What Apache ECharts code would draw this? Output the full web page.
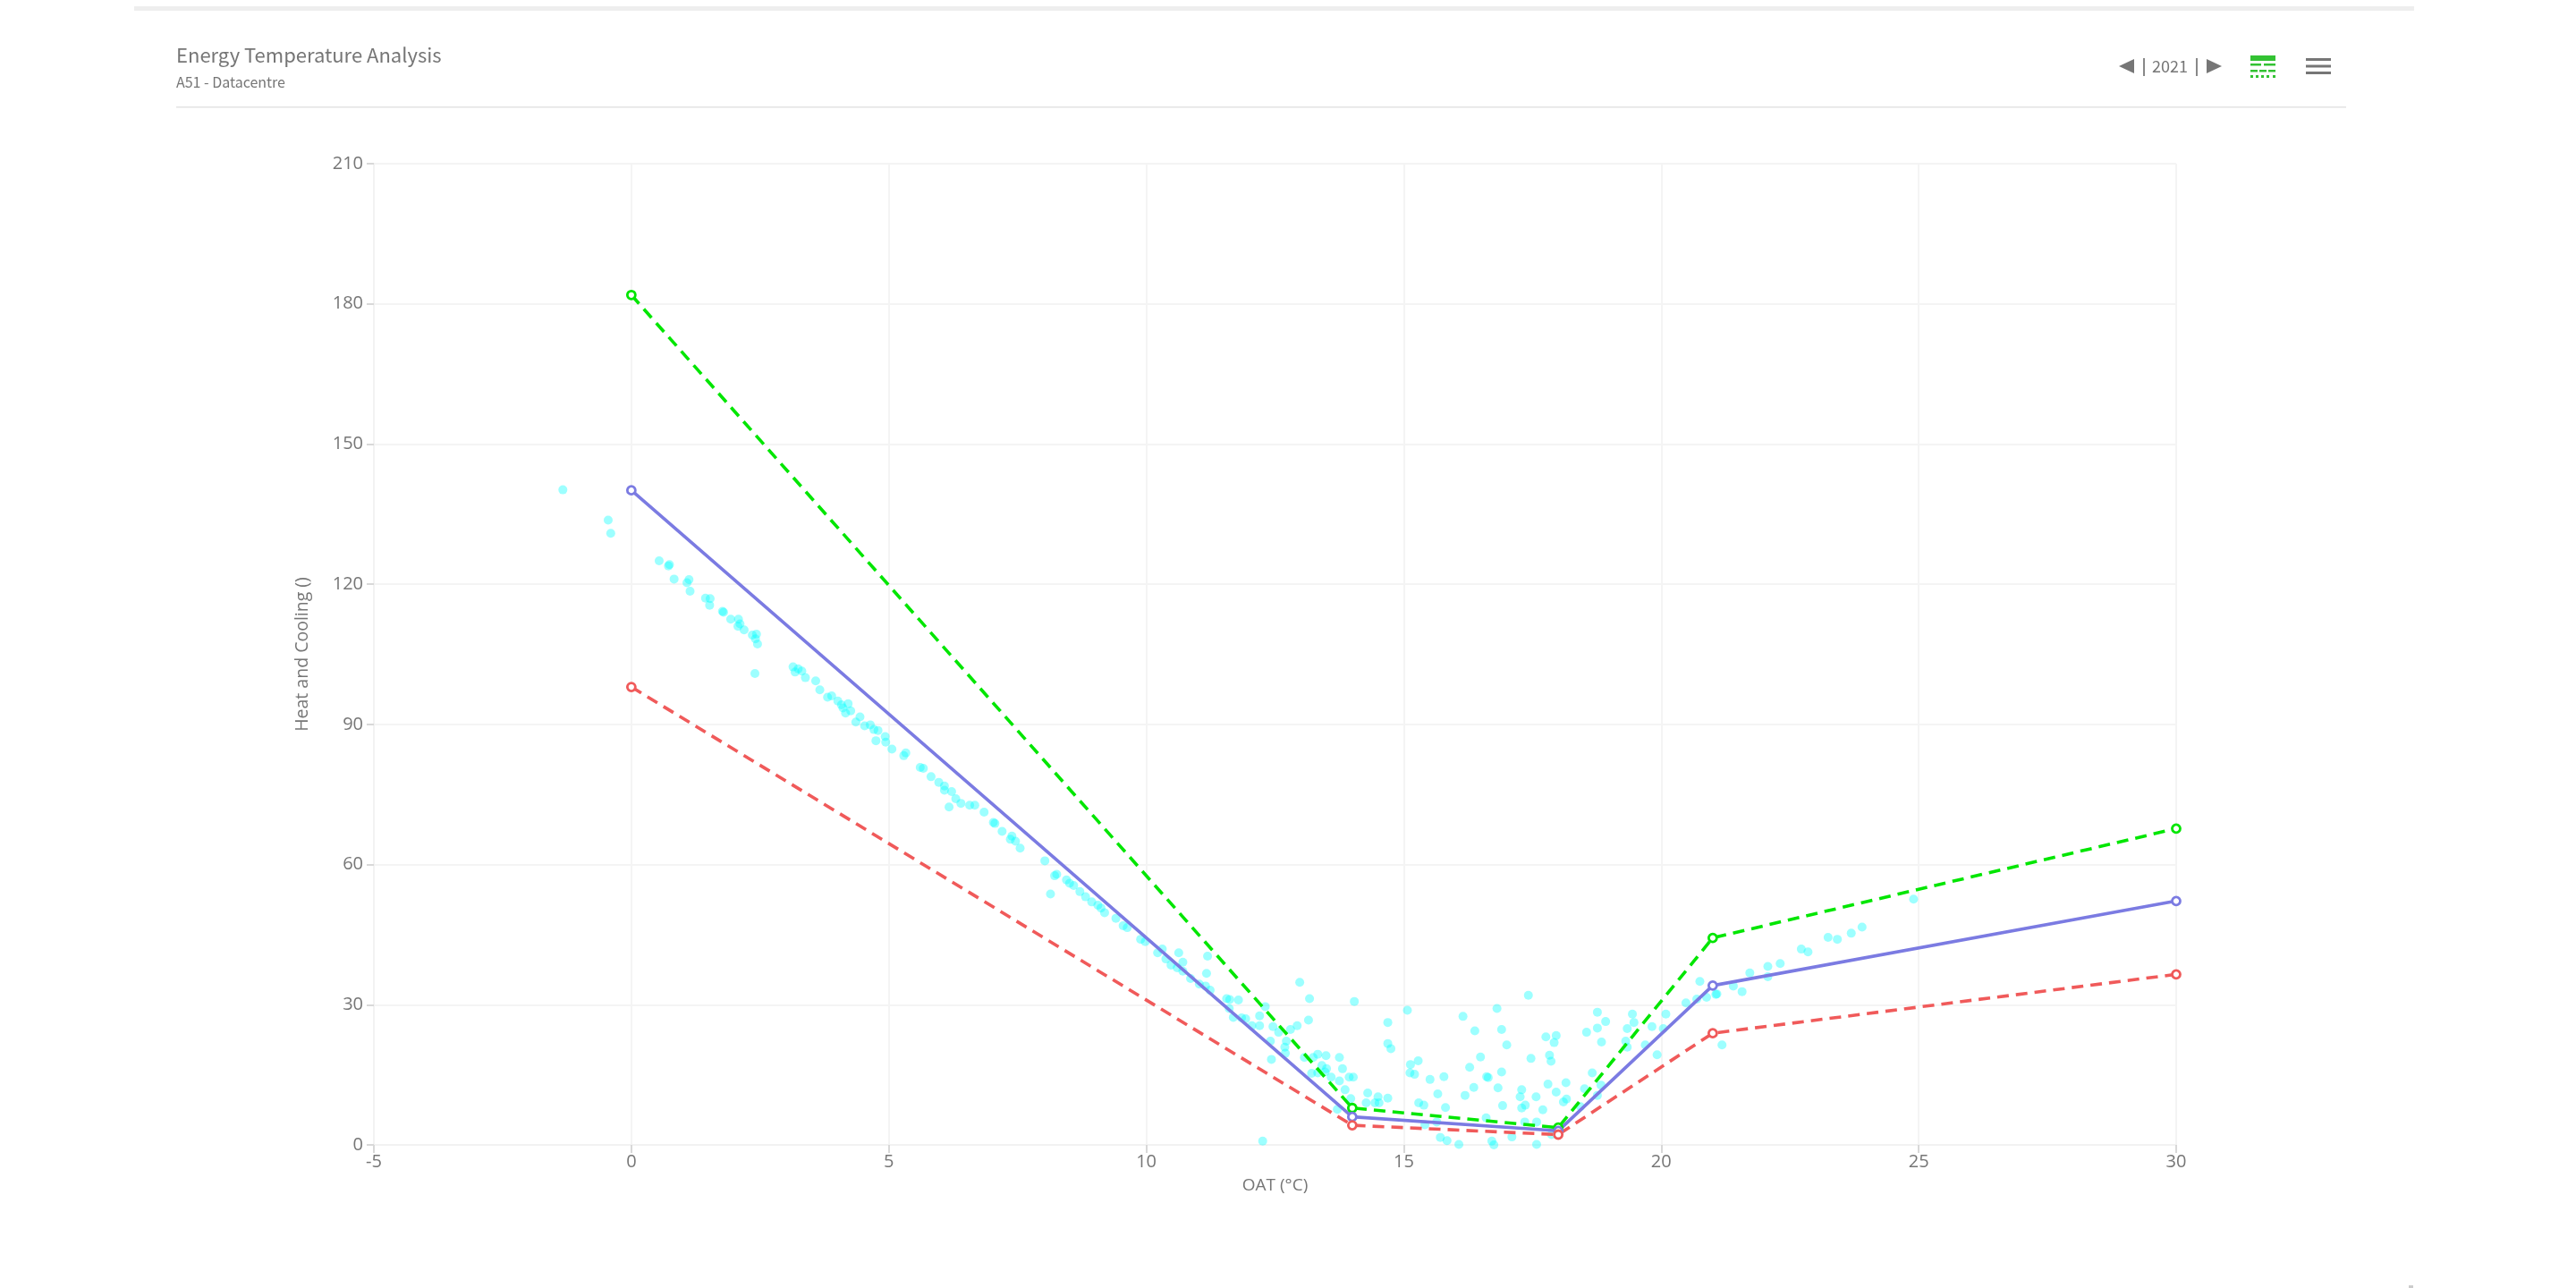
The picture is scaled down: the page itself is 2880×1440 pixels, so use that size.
<!DOCTYPE html>
<html><head><meta charset="utf-8">
<style>html,body{margin:0;padding:0;background:#fff}#c{width:2880px;height:1440px}</style>
<script src="https://cdn.jsdelivr.net/npm/echarts@6/dist/echarts.min.js"></script>
</head><body><div id="c"></div>
<script>
const chartTitle = 'Energy Temperature Analysis';
const chartSubtitle = 'A51 - Datacentre';
const yearLabel = '2021';
const xAxisName = 'OAT (°C)';
const yAxisName = 'Heat and Cooling ()';
const lineOAT = [0, 14, 18, 21, 30];
const upperBand = [181.9, 7.9, 3.7, 44.3, 67.7];
const baseline = [140.1, 6.0, 3.0, 34.1, 52.2];
const lowerBand = [98, 4.2, 2.2, 23.9, 36.5];
const readings = [
[-1.33,140.2],[-0.45,133.7],[-0.40,130.9],[0.54,125.0],[0.74,124.2],[0.72,123.9],[0.83,121.1],[1.12,121.0],[1.08,120.3],[1.14,118.5],
[1.44,117.0],[1.53,116.9],[1.52,115.5],[1.77,114.2],[1.79,114.0],[1.93,112.5],[2.08,112.5],[2.07,111.0],[2.19,110.2],[2.11,111.5],
[2.35,109.1],[2.43,109.3],[2.41,108.3],[2.45,107.2],[2.40,100.9],[3.14,102.3],[3.24,101.9],[3.18,101.2],[3.31,101.4],[3.38,100.0],
[3.58,99.3],[3.66,97.4],[3.81,95.8],[3.89,96.1],[4.01,95.0],[4.08,94.2],[4.21,94.4],[4.26,92.9],[4.16,92.4],[4.11,93.5],
[4.44,91.6],[4.36,90.5],[4.53,89.7],[4.64,89.9],[4.71,88.9],[4.79,88.7],[4.93,87.4],[4.94,86.2],[4.75,86.5],[5.06,84.7],
[5.33,83.9],[5.29,83.3],[5.61,80.8],[5.67,80.6],[5.82,78.8],[5.97,77.6],[6.08,76.8],[6.08,75.9],[6.22,75.6],[6.30,74.1],
[6.40,73.1],[6.57,72.7],[6.67,72.7],[6.17,72.3],[6.85,71.2],[7.03,69.0],[7.06,68.8],[7.20,67.1],[7.39,66.1],[7.36,65.4],
[7.46,65.0],[7.55,63.5],[8.03,60.8],[8.26,57.9],[8.22,57.6],[8.14,53.7],[8.45,56.7],[8.51,56.0],[8.59,55.5],[8.71,54.2],
[8.82,53.1],[8.94,52.0],[9.06,51.3],[9.12,50.7],[9.19,49.7],[9.41,48.5],[9.55,46.9],[9.63,46.5],[9.89,44.0],[9.98,43.5],
[10.22,41.1],[10.31,41.9],[10.63,41.1],[10.71,39.1],[10.38,39.8],[10.48,38.5],[10.60,37.9],[10.71,37.2],[10.86,35.6],[11.03,34.4],
[11.15,34.0],[11.24,33.1],[11.19,40.4],[11.17,36.7],[11.56,31.3],[11.62,31.1],[11.79,31.0],[11.61,29.2],[11.69,27.3],[11.85,27.2],
[11.93,27.0],[12.05,25.5],[12.20,27.6],[12.20,25.5],[12.31,29.6],[12.46,25.3],[12.57,24.1],[12.41,22.2],[12.72,22.2],[12.69,20.9],
[12.70,19.6],[12.43,18.3],[12.80,24.7],[12.93,25.5],[13.15,26.7],[12.98,34.8],[13.17,31.3],[14.04,30.7],[13.07,18.7],[13.24,18.7],
[13.33,19.4],[13.49,19.1],[13.75,18.7],[13.81,16.3],[13.21,15.3],[13.33,15.4],[13.41,17.0],[13.50,16.3],[13.47,15.6],[13.59,14.5],
[13.75,13.7],[13.94,14.5],[14.02,14.5],[13.86,11.8],[13.97,9.9],[13.71,7.6],[12.26,0.8],[14.30,11.1],[14.27,9.0],[14.44,9.0],
[14.50,10.3],[14.52,9.0],[14.69,10.0],[15.07,28.8],[14.69,26.2],[14.69,21.7],[14.75,20.6],[15.13,17.2],[15.28,18.0],[15.12,15.4],
[15.21,15.1],[15.29,9.0],[15.39,8.5],[15.51,14.0],[15.78,14.6],[15.66,10.9],[15.81,8.0],[15.41,4.3],[15.64,4.9],[15.71,1.6],
[15.84,0.9],[16.07,0.1],[16.15,27.5],[16.38,24.4],[16.28,16.6],[16.49,18.8],[16.19,10.6],[16.36,12.3],[16.61,14.6],[16.64,14.4],
[16.90,15.6],[16.83,12.2],[16.60,5.8],[16.71,0.8],[16.75,0.0],[16.81,29.2],[16.90,24.7],[17.00,21.4],[17.42,32.0],[17.47,18.5],
[16.92,8.4],[17.10,1.7],[17.29,11.8],[17.26,10.3],[17.57,10.3],[17.36,8.5],[17.29,7.9],[17.70,7.5],[17.35,4.9],[17.58,4.9],
[17.58,0.1],[17.76,23.1],[17.96,23.4],[17.92,21.9],[17.83,19.2],[17.86,17.9],[17.80,13.0],[17.96,11.3],[18.15,13.3],[18.10,9.2],
[18.16,9.8],[17.87,2.2],[18.55,24.1],[18.76,28.4],[18.76,25.0],[18.92,26.4],[18.84,22.0],[18.66,15.4],[18.51,12.0],[18.83,12.8],
[18.76,10.6],[18.43,8.2],[19.44,28.0],[19.47,26.2],[19.34,24.9],[19.82,25.3],[19.31,22.2],[19.34,20.9],[19.69,21.4],[19.92,19.3],
[20.09,28.0],[20.04,24.9],[20.48,30.4],[20.75,35.0],[20.69,31.2],[20.88,31.6],[21.06,32.2],[21.08,32.3],[21.18,21.4],[21.40,34.0],
[21.57,32.8],[21.72,36.8],[22.07,38.2],[22.31,38.8],[22.07,36.0],[22.72,41.9],[22.85,41.3],[23.24,44.4],[23.42,44.0],[23.69,45.3],
[23.90,46.6],[24.90,52.6]
];
const GREY='#767676', HEAD='"Noto Sans CJK SC","Source Sans Pro",sans-serif', BODY='"Open Sans","Noto Sans",sans-serif';
const pairs = ys => lineOAT.map((x,i)=>[x,ys[i]]);
const lineSeries = (name,ys,color,type)=>({name,type:'line',data:pairs(ys),z:3,symbol:'circle',symbolSize:9,showSymbol:true,
  lineStyle:{color,width:3.6,type},itemStyle:{color:'#fff',borderColor:color,borderWidth:2.8}});
const rect=(x,y,w,h,fill)=>({type:'rect',silent:true,shape:{x,y,width:w,height:h},style:{fill}});
const tri=(pts,fill)=>({type:'polygon',silent:true,shape:{points:pts},style:{fill}});
const GREEN='#33c233';
const graphicEls=[
 rect(150,7,2549,5,'#eeeeee'), rect(197,119,2426,1.6,'#e3e3e3'),
 tri([[2369,74],[2386,66],[2386,82]],GREY), rect(2396,65,2,20,'#888'),
 {type:'text',silent:true,x:2426,y:74,style:{text:yearLabel,font:'18px '+HEAD,fill:GREY,textAlign:'center',textVerticalAlign:'middle'}},
 rect(2455,65,2,20,'#888'), tri([[2484,74],[2467,66],[2467,82]],GREY),
 rect(2516,62,28,6,GREEN),
 rect(2516,71,12,2.5,GREEN),rect(2531,71,13,2.5,GREEN),
 rect(2516,78,8,2.5,GREEN),rect(2526,78,8,2.5,GREEN),rect(2536,78,8,2.5,GREEN),
 rect(2516,84,3,3,GREEN),rect(2522,84,3,3,GREEN),rect(2528,84,3,3,GREEN),rect(2534,84,3,3,GREEN),rect(2541,84,3,3,GREEN),
 rect(2578,65,28,3,GREY),rect(2578,72.5,28,3,GREY),rect(2578,80,28,3,GREY),
 rect(2693,1437,5,3,'#cccccc')
];
const chart=echarts.init(document.getElementById('c'),null,{renderer:'canvas'});
chart.setOption({
 animation:false,backgroundColor:'#fff',
 title:{text:chartTitle,subtext:chartSubtitle,left:197,top:51,itemGap:11,padding:0,
  textStyle:{fontFamily:HEAD,fontSize:22,fontWeight:400,color:GREY},
  subtextStyle:{fontFamily:HEAD,fontSize:16,color:GREY}},
 graphic:graphicEls,
 grid:{left:418,right:447,top:183,bottom:160,containLabel:false},
 xAxis:{type:'value',min:-5,max:30,interval:5,name:xAxisName,nameLocation:'middle',nameGap:36,
  nameTextStyle:{fontFamily:BODY,fontSize:19,color:GREY},
  axisLine:{show:true,onZero:false,lineStyle:{color:'#f2f2f2',width:2}},
  axisTick:{show:true,length:9,lineStyle:{color:'#d8d8d8',width:2}},
  axisLabel:{fontFamily:BODY,fontSize:20,color:GREY,margin:9},
  splitLine:{show:true,lineStyle:{color:'#f4f4f4',width:2}}},
 yAxis:{type:'value',min:0,max:210,interval:30,name:yAxisName,nameLocation:'middle',nameGap:70,
  nameTextStyle:{fontFamily:BODY,fontSize:19.5,color:GREY},
  axisLine:{show:true,onZero:false,lineStyle:{color:'#f2f2f2',width:2}},
  axisTick:{show:true,length:8,lineStyle:{color:'#d8d8d8',width:2}},
  axisLabel:{fontFamily:BODY,fontSize:20,color:GREY,margin:12},
  splitLine:{show:true,lineStyle:{color:'#f4f4f4',width:2}}},
 series:[
  {name:'Readings',type:'scatter',data:readings,symbolSize:10,z:2,itemStyle:{color:'rgba(0,255,255,0.48)'}},
  lineSeries('Upper',upperBand,'#00e600',[13,8]),
  lineSeries('Baseline',baseline,'#7b7be2','solid'),
  lineSeries('Lower',lowerBand,'#f05a5a',[13,8])
 ]
});
</script></body></html>
